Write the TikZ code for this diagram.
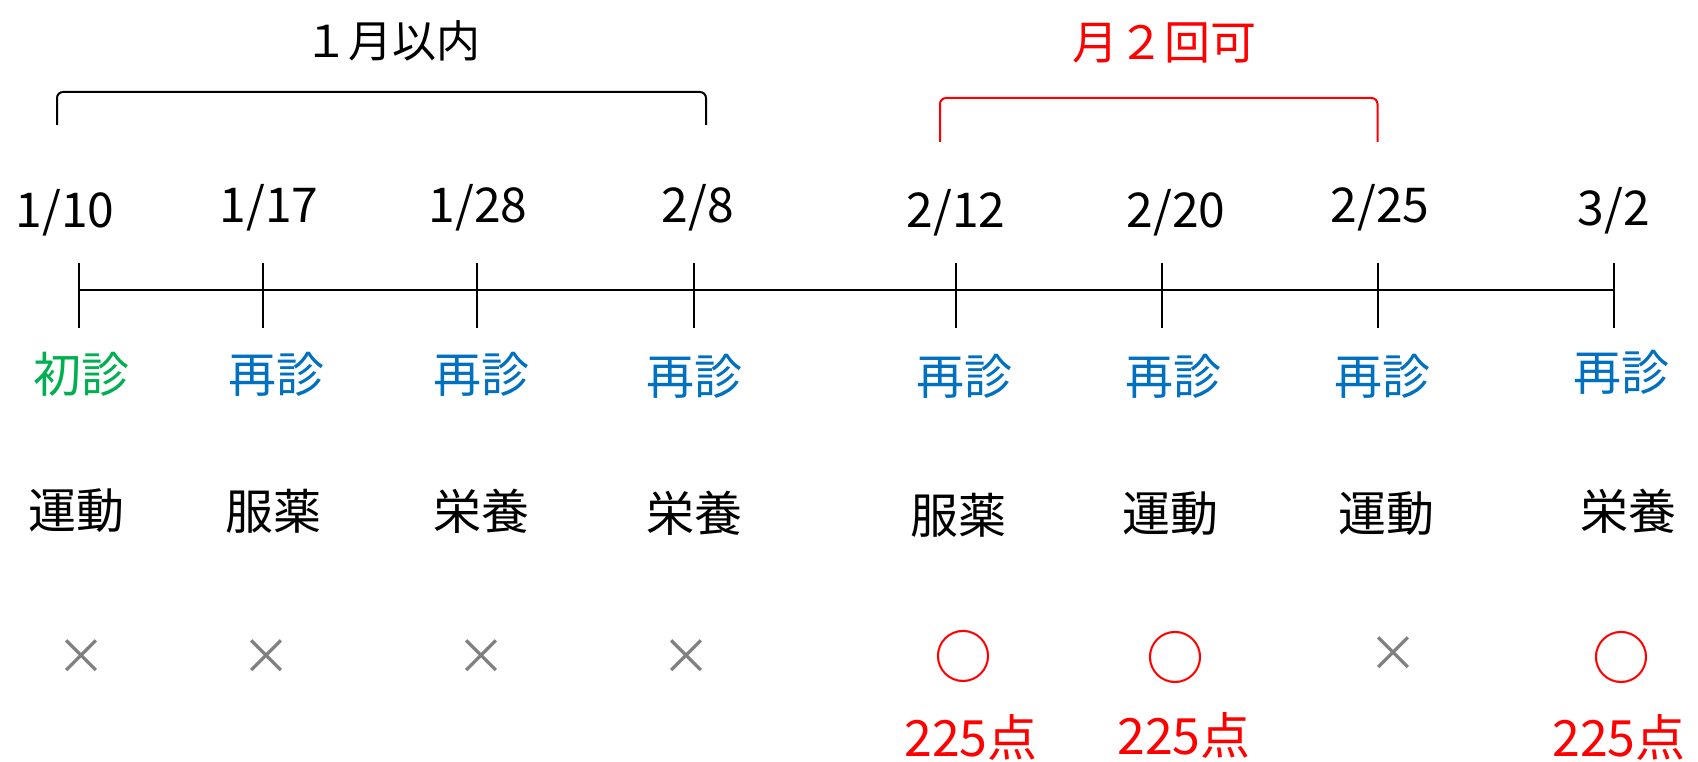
\documentclass[tikz,border=0pt]{standalone}
\usepackage{fontspec}
\setmainfont{Noto Sans CJK JP}
\definecolor{kgreen}{HTML}{00B050}
\definecolor{kblue}{HTML}{0070C0}
\definecolor{kred}{HTML}{FF0000}
\definecolor{kgray}{HTML}{808080}
\begin{document}
\begin{tikzpicture}[x=1pt,y=-1pt,
  lbl/.style={inner sep=0pt, font=\fontsize{48}{52}\selectfont},
  datelbl/.style={inner sep=0pt, font=\fontsize{48}{52}\selectfont},
  visit/.style={lbl, text=kblue},
  mk/.style={inner sep=0pt, text=kgray, font=\fontsize{50}{54}\selectfont},
  ok/.style={inner sep=0pt, text=kred, font=\fontsize{58}{62}\selectfont},
  pts/.style={inner sep=0pt, text=kred, font=\fontsize{50}{54}\selectfont},
  axis/.style={line width=2pt, black},
  brk/.style={line width=2pt, rounded corners=6pt}]
\useasboundingbox (0,0) rectangle (1698,762);
\fill[white] (0,0) rectangle (1698,762);
% top labels and brackets
\node[inner sep=0pt, font=\fontsize{44}{48}\selectfont] (lim) at (392,41) {１月以内};
\node[inner sep=0pt, text=kred, font=\fontsize{46}{50}\selectfont] (twice) at (1164,43) {月２回可};
\coordinate (b1l) at (57,125);
\coordinate (b1r) at (706,125);
\draw[brk] (b1l) -- (57,92) -- (706,92) -- (b1r);
\coordinate (b2l) at (940,142);
\coordinate (b2r) at (1377.5,142);
\draw[brk, kred] (b2l) -- (940,98) -- (1377.5,98) -- (b2r);
% dates
\node[datelbl] (d1) at (65,213) {1/10};
\node[datelbl] (d2) at (269,208) {1/17};
\node[datelbl] (d3) at (478,208) {1/28};
\node[datelbl] (d4) at (698,208) {2/8};
\node[datelbl] (d5) at (956,213) {2/12};
\node[datelbl] (d6) at (1176,213) {2/20};
\node[datelbl] (d7) at (1380,208) {2/25};
\node[datelbl] (d8) at (1614,211) {3/2};
% timeline
\coordinate (t1) at (79,290);
\coordinate (t2) at (263,290);
\coordinate (t3) at (476.5,290);
\coordinate (t4) at (694,290);
\coordinate (t5) at (956,290);
\coordinate (t6) at (1162,290);
\coordinate (t7) at (1377.5,290);
\coordinate (t8) at (1614,290);
\draw[axis] (t1) -- (t8);
\foreach \i in {1,...,8} {
  \draw[axis] (t\i) ++(0,-27) -- ++(0,65);
}
% visit type
\node[lbl, text=kgreen] (v1) at (81,374) {初診};
\node[visit] (v2) at (276,374) {再診};
\node[visit] (v3) at (481,374) {再診};
\node[visit] (v4) at (694,376) {再診};
\node[visit] (v5) at (964,376) {再診};
\node[visit] (v6) at (1173,376) {再診};
\node[visit] (v7) at (1382,376) {再診};
\node[visit] (v8) at (1621,372) {再診};
% category
\node[lbl] (c1) at (76,511) {運動};
\node[lbl] (c2) at (273,511) {服薬};
\node[lbl] (c3) at (481,511) {栄養};
\node[lbl] (c4) at (694,513) {栄養};
\node[lbl] (c5) at (958,515) {服薬};
\node[lbl] (c6) at (1170,514) {運動};
\node[lbl] (c7) at (1386,514) {運動};
\node[lbl] (c8) at (1628,511) {栄養};
% marks
\node[mk] (m1) at (81,657) {×};
\node[mk] (m2) at (266,657) {×};
\node[mk] (m3) at (481,657) {×};
\node[mk] (m4) at (686,657) {×};
\node[ok] (m5) at (963,656) {○};
\node[ok] (m6) at (1175,657) {○};
\node[mk] (m7) at (1393,654) {×};
\node[ok] (m8) at (1621,657) {○};
% points
\node[pts] (p5) at (971,737) {225点};
\node[pts] (p6) at (1184,735) {225点};
\node[pts] (p8) at (1619,737) {225点};
\end{tikzpicture}
\end{document}
